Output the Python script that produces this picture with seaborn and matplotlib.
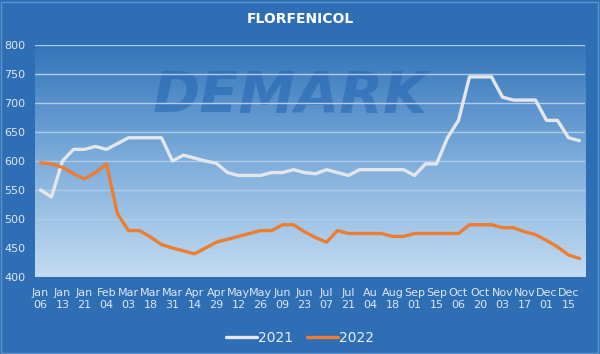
import numpy as np
import pandas as pd
import matplotlib
matplotlib.use("Agg")
from matplotlib import pyplot as plt
from matplotlib.colors import LinearSegmentedColormap
from matplotlib.patches import Rectangle
import seaborn as sns

# weekly price points, every other one labelled on the axis
price_2021 = [550, 538, 600, 620, 620, 625, 620, 630, 640, 640,
              640, 640, 600, 610, 605, 600, 596, 580, 575, 575,
              575, 580, 580, 585, 580, 578, 585, 580, 575, 585,
              585, 585, 585, 585, 575, 595, 595, 640, 670, 745,
              745, 745, 710, 705, 705, 705, 670, 670, 640, 635]
price_2022 = [597, 595, 589, 578, 569, 580, 595, 509, 480, 480,
              469, 456, 450, 445, 440, 450, 460, 465, 470, 475,
              480, 480, 490, 490, 478, 468, 460, 480, 475, 475,
              475, 475, 470, 470, 475, 475, 475, 475, 475, 490,
              490, 490, 485, 485, 478, 473, 463, 452, 438, 432]
tick_labels = ["Jan\n06", "Jan\n13", "Jan\n21", "Feb\n04", "Mar\n03", "Mar\n18",
               "Mar\n31", "Apr\n14", "Apr\n29", "May\n12", "May\n26", "Jun\n09",
               "Jun\n23", "Jul\n07", "Jul\n21", "Au\n04", "Aug\n18", "Sep\n01",
               "Sep\n15", "Oct\n06", "Oct\n20", "Nov\n03", "Nov\n17", "Dec\n01",
               "Dec\n15"]
years = ["2021", "2022"]

n = len(price_2021)
df = pd.DataFrame({
    "week": list(range(n)) * 2,
    "price": price_2021 + price_2022,
    "year": [years[0]] * n + [years[1]] * n,
})

bg = "#2E6EB5"
txt = "#DCE7F4"

sns.set_theme(style="white")
plt.rcParams['font.family'] = ['DejaVu Sans']

fig = plt.figure(figsize=(6, 3.54), dpi=100, facecolor=bg)
ax = fig.add_axes([0.0583, 0.2175, 0.9167, 0.6555])
ax.set_facecolor(bg)

# plot area gradient
grad = LinearSegmentedColormap.from_list("g", ["#3374BA", "#7DADDB", "#C3DBF1"])
ax.imshow(np.linspace(0, 1, 256).reshape(-1, 1), cmap=grad, aspect="auto",
          extent=[0, 1, 0, 1], transform=ax.transAxes, zorder=0)

# watermark
ax.text(0.465, 0.775, "DEMARK", transform=ax.transAxes, fontsize=41,
        fontweight="bold", fontstyle="italic", color="#2868B4", alpha=0.6,
        ha="center", va="center", zorder=1)

sns.lineplot(data=df, x="week", y="price", hue="year",
             palette={"2021": "#E4E6EA", "2022": "#ED7D31"},
             linewidth=2.4, ax=ax, zorder=3)

ax.set_xlim(-0.5, n - 0.5)
ax.set_ylim(400, 800)
ax.set_yticks(range(400, 801, 50))
ax.set_xticks(range(0, n, 2))
ax.set_xticklabels(tick_labels)
ax.tick_params(axis="both", length=0, colors=txt, labelsize=8)
ax.tick_params(axis="x", pad=8)
ax.tick_params(axis="y", pad=7)
ax.yaxis.grid(True, color="#B0CCEA", linewidth=1, zorder=2)
ax.set_axisbelow(False)
for s in ax.spines.values():
    s.set_visible(False)
ax.set_xlabel("")
ax.set_ylabel("")

leg = ax.legend(title=None, ncol=2, frameon=False, loc="center",
                bbox_to_anchor=(0.5, 0.045), bbox_transform=fig.transFigure,
                fontsize=10, handlelength=2.2, handletextpad=0.1,
                columnspacing=1.0)
for t in leg.get_texts():
    t.set_color("#E8EEF6")

fig.text(0.5, 0.945, "FLORFENICOL", ha="center", va="center",
         fontsize=10, fontweight="bold", color="white")

fig.patches.append(Rectangle((0.002, 0.004), 0.994, 0.99, transform=fig.transFigure,
                             fill=False, edgecolor="#5E92CC", linewidth=1))

fig.savefig("out.png", dpi=100, facecolor=bg)
